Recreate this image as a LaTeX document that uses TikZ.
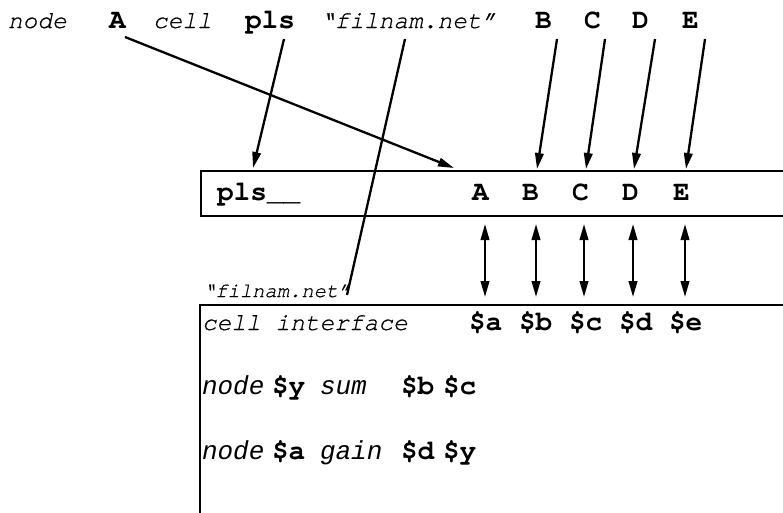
\documentclass[tikz,border=0pt]{standalone}
\usepackage{fontspec}
\usetikzlibrary{arrows.meta}
\newfontfamily\cour[Ligatures={NoCommon}]{TeX Gyre Cursor}
\newfontfamily\couri[Ligatures={NoCommon},FakeBold=0.6]{TeX Gyre Cursor}
\newfontfamily\smono{Liberation Mono}
\begin{document}
\begin{tikzpicture}[x=1pt,y=-1pt,
  every node/.style={inner sep=0pt,outer sep=0pt,anchor=base west},
  ci/.style={font=\couri\fontsize{24.5}{27}\selectfont\itshape},
  cb/.style={font=\cour\fontsize{27.8}{30}\selectfont\bfseries},
  si/.style={font=\smono\fontsize{26}{28}\selectfont\itshape},
  lab/.style={font=\couri\fontsize{20.5}{23}\selectfont\itshape},
  ptr/.style={line width=2.3pt,-{Triangle[length=16pt,width=8.5pt]}},
  dbl/.style={line width=2.3pt,{Triangle[length=16pt,width=8.5pt]}-{Triangle[length=16pt,width=8.5pt]}},
  frame/.style={line width=1.5pt}]
\useasboundingbox (0,0) rectangle (783,512);
\clip (0,0) rectangle (783,512);
% top row
\node[ci] (tnode) at (8,28) {node};
\node[cb] (tA) at (109,28) {A};
\node[ci] (tcell) at (153,28) {cell};
\node[cb] (tpls) at (245,28) {pls};
\node[ci] (tfil) at (320,28) {“filnam.net”};
\node[cb] (tB) at (535,28) {B};
\node[cb] (tC) at (584,28) {C};
\node[cb] (tD) at (632,28) {D};
\node[cb] (tE) at (682,28) {E};
% box 1
\draw[frame] (790,171) -- (201,171) -- (201,216) -- (790,216);
\node[cb] (bpls) at (217,200) {pls\_\_};
\node[cb] (bA) at (472,200) {A};
\node[cb] (bB) at (522,200) {B};
\node[cb] (bC) at (572,200) {C};
\node[cb] (bD) at (622,200) {D};
\node[cb] (bE) at (673,200) {E};
% box 2
\node[lab] (lfil) at (203,297) {“filnam.net”};
\draw[frame] (790,305) -- (200,305) -- (200,520);
\node[ci] (lcell) at (202,330) {cell interface};
\node[cb] (la) at (469,330) {\$a};
\node[cb] (lb) at (519,330) {\$b};
\node[cb] (lc) at (569,330) {\$c};
\node[cb] (ld) at (619,330) {\$d};
\node[cb] (le) at (669,330) {\$e};
\node[si] (n1) at (202,394) {node};
\node[cb] (n1y) at (272,394) {\$y};
\node[si] (n1s) at (320,394) {sum};
\node[cb] (n1b) at (401,394) {\$b};
\node[cb] (n1c) at (443,394) {\$c};
\node[si] (n2) at (202,459) {node};
\node[cb] (n2a) at (272,459) {\$a};
\node[si] (n2g) at (320,459) {gain};
\node[cb] (n2d) at (401,459) {\$d};
\node[cb] (n2y) at (443,459) {\$y};
% arrow endpoints
\coordinate (sA) at (125,37);   \coordinate (eA) at (454,168);
\coordinate (sP) at (284,39);   \coordinate (eP) at (253,168);
\coordinate (sF) at (405,39);   \coordinate (eF) at (347,295);
\coordinate (sB) at (557,39);   \coordinate (eB) at (537,169);
\coordinate (sC) at (605,39);   \coordinate (eC) at (586,169);
\coordinate (sD) at (655,39);   \coordinate (eD) at (634,169);
\coordinate (sE) at (705,39);   \coordinate (eE) at (686,169);
\draw[ptr] (sA) -- (eA);
\draw[ptr] (sP) -- (eP);
\draw[line width=2.3pt] (sF) -- (eF);
\draw[ptr] (sB) -- (eB);
\draw[ptr] (sC) -- (eC);
\draw[ptr] (sD) -- (eD);
\draw[ptr] (sE) -- (eE);
% double arrows
\foreach \i/\x in {1/485,2/536,3/584,4/633,5/685}{
  \coordinate (u\i) at (\x,224);
  \coordinate (v\i) at (\x,297);
  \draw[dbl] (u\i) -- (v\i);
}
\end{tikzpicture}
\end{document}
